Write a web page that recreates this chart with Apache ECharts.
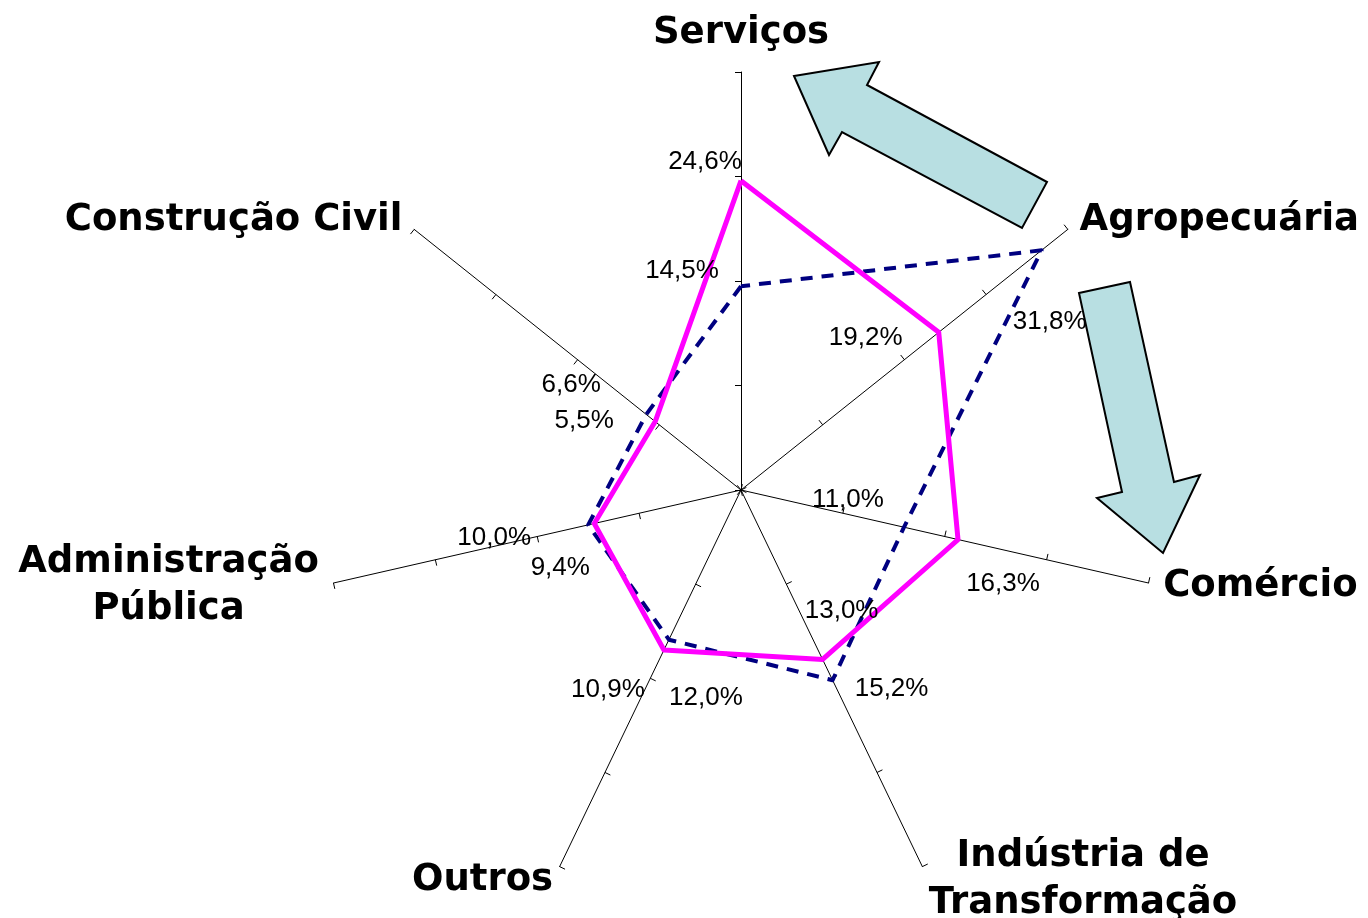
<!doctype html>
<html>
<head>
<meta charset="utf-8">
<title>Radar</title>
<script src="https://cdn.jsdelivr.net/npm/echarts@6/dist/echarts.min.js"></script>
<style>
  html, body { margin: 0; padding: 0; background: #fff; }
  #chart { width: 1368px; height: 918px; }
</style>
</head>
<body>
<div id="chart"></div>
<script>
// categories in drawing order (radar goes counter-clockwise from the top)
var categories = ['Serviços', 'Construção Civil', 'Administração\nPública', 'Outros',
                  'Indústria de\nTransformação', 'Comércio', 'Agropecuária'];
var solidValues  = [24.6, 5.5, 9.4, 12.0, 13.0, 16.3, 19.2];   // magenta line
var dashedValues = [14.5, 6.6, 10.0, 10.9, 15.2, 11.0, 31.8];  // navy dashed line
var axisMin = -5, axisMax = 35, axisSplits = 4;

// label shift from its point, [dx, dy] in px
var solidShift  = [[-36,-19], [-71,-1], [-34,44], [42,48], [19,-49], [45,44], [-73,6]];
var dashedShift = [[-59,-15], [-75,-30], [-94,13], [-61,50], [59,9], [-56,-27], [8,72]];

function pct(v) { return v.toFixed(1).replace('.', ',') + '%'; }

function makeRich(shifts) {
  var rich = {};
  shifts.forEach(function (s, i) {
    var dx = s[0], dy = s[1];
    rich['p' + i] = {
      fontFamily: 'Liberation Sans',
      fontSize: 26,
      color: '#000',
      padding: [Math.max(0, 2 * dy), Math.max(0, -2 * dx), Math.max(0, -2 * dy), Math.max(0, 2 * dx)]
    };
  });
  return rich;
}

function makeLabel(shifts) {
  return {
    show: true,
    position: 'inside',
    formatter: function (p) { return '{p' + p.dimensionIndex + '|' + pct(p.value) + '}'; },
    rich: makeRich(shifts)
  };
}

var chart = echarts.init(document.getElementById('chart'));

var option = {
  animation: false,
  backgroundColor: '#fff',
  radar: {
    center: [741, 490],
    radius: 418,
    startAngle: 90,
    splitNumber: axisSplits,
    shape: 'polygon',
    indicator: categories.map(function (c) { return { name: c, min: axisMin, max: axisMax }; }),
    axisName: {
      formatter: function (name) {
        return name.split('\n').map(function (l) { return '{c|' + l + '}'; }).join('\n');
      },
      rich: {
        c: {
          align: 'center',
          fontFamily: 'DejaVu Sans',
          fontWeight: 'bold',
          fontSize: 37,
          lineHeight: 47,
          color: '#000'
        }
      }
    },
    nameGap: 15,
    axisLine: { show: true, lineStyle: { color: '#000', width: 1 } },
    axisTick: { show: true, length: 6, lineStyle: { color: '#000', width: 1 } },
    axisLabel: { show: false },
    splitLine: { show: false },
    splitArea: { show: false }
  },
  graphic: [
    {
      type: 'polygon',
      z: 100,
      shape: { points: [[794,76],[879,62],[867,85],[1047,182],[1022,228],[842,132],[829,155]] },
      style: { fill: '#B8DFE2', stroke: '#000', lineWidth: 2 }
    },
    {
      type: 'polygon',
      z: 100,
      shape: { points: [[1079,293],[1130,282],[1174,482],[1200,475],[1163,553],[1097,498],[1122,492]] },
      style: { fill: '#B8DFE2', stroke: '#000', lineWidth: 2 }
    }
  ],
  series: [
    {
      type: 'radar',
      symbol: 'circle',
      symbolSize: 1,
      itemStyle: { color: '#000080' },
      lineStyle: { color: '#000080', width: 4, type: [12, 9] },
      label: makeLabel(dashedShift),
      data: [{ value: dashedValues }]
    },
    {
      type: 'radar',
      symbol: 'circle',
      symbolSize: 1,
      itemStyle: { color: '#FF00FF' },
      lineStyle: { color: '#FF00FF', width: 5, type: 'solid' },
      label: makeLabel(solidShift),
      data: [{ value: solidValues }]
    }
  ]
};

chart.setOption(option);
</script>
</body>
</html>
